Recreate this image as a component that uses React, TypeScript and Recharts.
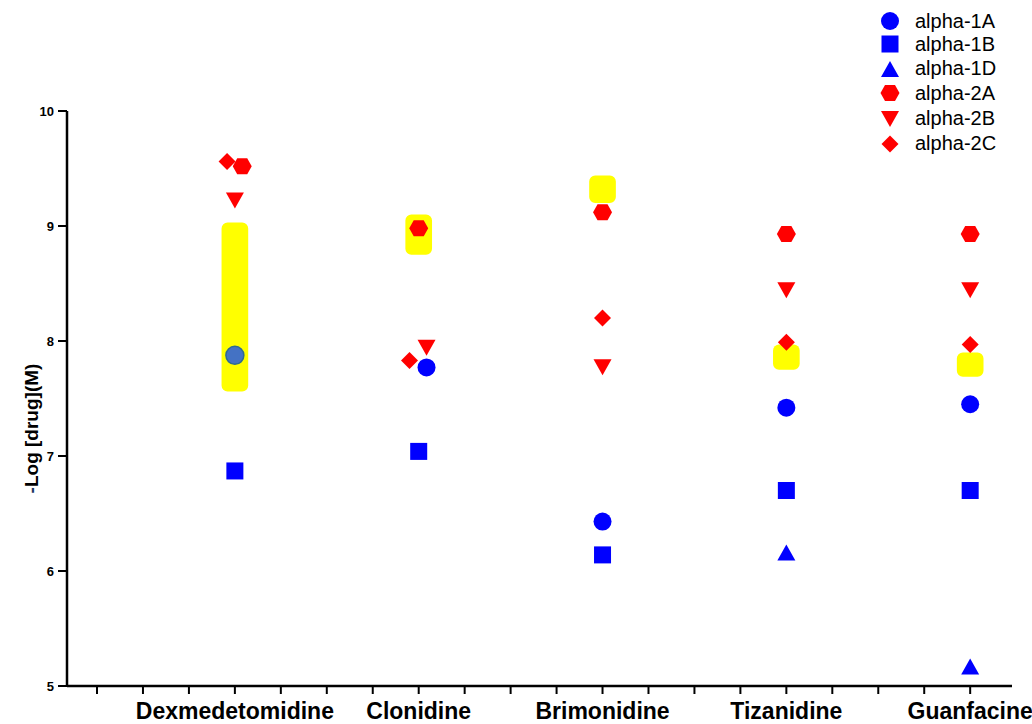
import { Legend, Rectangle, ReferenceArea, Scatter, ScatterChart, XAxis, YAxis } from "recharts";

const drugs = ["Dexmedetomidine", "Clonidine", "Brimonidine", "Tizanidine", "Guanfacine"];
// slot index of each drug on the x axis (20 ticks, a drug every 4th)
const drugSlots = [3, 7, 11, 15, 19];
const slotTicks = [0, 1, 2, 3, 4, 5, 6, 7, 8, 9, 10, 11, 12, 13, 14, 15, 16, 17, 18, 19];
const yTicks = [5, 6, 7, 8, 9, 10];

const alpha1A = [7.88, 7.77, 6.43, 7.42, 7.45];
const alpha1B = [6.87, 7.04, 6.14, 6.7, 6.7];
const alpha1D = [null, null, null, 6.16, 5.17];
const alpha2A = [9.52, 8.98, 9.12, 8.93, 8.93];
const alpha2B = [9.23, 7.95, 7.78, 8.45, 8.45];
const alpha2C = [9.56, 7.83, 8.2, 7.99, 7.97];

// yellow highlight boxes (clinical range)
const rangeLow = [7.56, 8.75, 9.2, 7.75, 7.69];
const rangeHigh = [9.03, 9.1, 9.44, 7.97, 7.9];

// small sideways nudges so overlapping markers stay visible
const jitter: Record<string, number[]> = {
  "alpha-1A": [0, 0.17, 0, 0, 0],
  "alpha-2A": [0.16, 0, 0, 0, 0],
  "alpha-2B": [0, 0.17, 0, 0, 0],
  "alpha-2C": [-0.17, -0.2, 0, 0, 0],
};

const FONT = "'Liberation Sans', Arial, sans-serif";
const BLUE = "#0000ff";
const RED = "#ff0000";

type Kind = "circle" | "square" | "triangle" | "hexagon" | "triangleDown" | "diamond";

const series: { name: string; kind: Kind; color: string; values: (number | null)[] }[] = [
  { name: "alpha-1A", kind: "circle", color: BLUE, values: alpha1A },
  { name: "alpha-1B", kind: "square", color: BLUE, values: alpha1B },
  { name: "alpha-1D", kind: "triangle", color: BLUE, values: alpha1D },
  { name: "alpha-2A", kind: "hexagon", color: RED, values: alpha2A },
  { name: "alpha-2B", kind: "triangleDown", color: RED, values: alpha2B },
  { name: "alpha-2C", kind: "diamond", color: RED, values: alpha2C },
];

function drawMarker(kind: Kind, cx: number, cy: number, fill: string, stroke?: string) {
  const pts = (arr: number[][]) => arr.map(([x, y]) => `${cx + x},${cy + y}`).join(" ");
  switch (kind) {
    case "circle":
      return <circle cx={cx} cy={cy} r={9} fill={fill} stroke={stroke ?? "none"} strokeWidth={1.5} />;
    case "square":
      return <rect x={cx - 8.5} y={cy - 8.5} width={17} height={17} fill={fill} />;
    case "triangle":
      return <polygon points={pts([[0, -8], [9, 8], [-9, 8]])} fill={fill} />;
    case "triangleDown":
      return <polygon points={pts([[-9, -7], [9, -7], [0, 9]])} fill={fill} />;
    case "hexagon":
      return <polygon points={pts([[-9.5, 0], [-5, -8], [5, -8], [9.5, 0], [5, 8], [-5, 8]])} fill={fill} />;
    case "diamond":
      return <polygon points={pts([[0, -8.5], [8.5, 0], [0, 8.5], [-8.5, 0]])} fill={fill} />;
  }
}

const makeShape = (kind: Kind, color: string) => (props: any) => {
  const { cx, cy, payload } = props;
  if (cx == null || cy == null) return <g />;
  // the dexmedetomidine alpha-1A point is drawn shaded in the original
  if (kind === "circle" && payload?.drug === "Dexmedetomidine") {
    return drawMarker(kind, cx, cy + 0.5, "#4472c4", "#2f6b8f");
  }
  return drawMarker(kind, cx, cy, color);
};

const buildData = (name: string, values: (number | null)[]) =>
  values
    .map((v, i) => ({ drug: drugs[i], x: drugSlots[i] + (jitter[name]?.[i] ?? 0), y: v }))
    .filter((d) => d.y !== null);

const legendRows = [22, 24, 25, 24, 26, 25];

const LegendBox = () => (
  <div style={{ fontFamily: FONT, fontSize: 20, color: "#000" }}>
    {series.map((s, i) => (
      <div key={s.name} style={{ display: "flex", alignItems: "center", height: legendRows[i] }}>
        <svg width={26} height={22} style={{ display: "block" }}>
          {drawMarker(s.kind, 13, 11, s.color)}
        </svg>
        <span style={{ marginLeft: 12 }}>{s.name}</span>
      </div>
    ))}
  </div>
);

const YLabel = (props: any) => {
  const vb = props.viewBox;
  const x = 31;
  const y = vb.y + vb.height / 2 + 30;
  return (
    <text
      x={x}
      y={y}
      transform={`rotate(-90, ${x}, ${y})`}
      textAnchor="middle"
      dominantBaseline="central"
      fontFamily={FONT}
      fontSize={19}
      fontWeight={700}
      fill="#000"
    >
      <tspan fill="#1f3864">-</tspan>Log [drug](M)
    </text>
  );
};

export default function App() {
  return (
    <div style={{ position: "absolute", left: 0, top: 0, width: 1032, height: 724, background: "#fff", overflow: "hidden" }}>
      <ScatterChart width={1032} height={724} margin={{ top: 111, right: 20, bottom: 0, left: 7 }} style={{ overflow: "visible" }}>
        <XAxis
          type="number"
          dataKey="x"
          domain={[-0.653, 19.91]}
          ticks={slotTicks}
          interval={0}
          allowDataOverflow
          height={38}
          tickSize={8}
          tickMargin={9}
          axisLine={{ stroke: "#000", strokeWidth: 2.5 }}
          tickLine={{ stroke: "#000", strokeWidth: 2 }}
          tick={{ fill: "#000", fontSize: 23, fontWeight: 700, fontFamily: FONT }}
          tickFormatter={(v: number) => {
            const i = drugSlots.indexOf(v);
            return i >= 0 ? drugs[i] : "";
          }}
        />
        <YAxis
          type="number"
          dataKey="y"
          domain={[5, 10]}
          ticks={yTicks}
          interval={0}
          width={60}
          tickSize={9}
          tickMargin={4}
          axisLine={{ stroke: "#000", strokeWidth: 2.5 }}
          tickLine={{ stroke: "#000", strokeWidth: 2 }}
          tick={{ fill: "#000", fontSize: 13, fontWeight: 700, fontFamily: FONT }}
          label={<YLabel />}
        />
        {drugSlots.map((slot, i) => (
          <ReferenceArea
            key={drugs[i]}
            x1={slot - 0.29}
            x2={slot + 0.29}
            y1={rangeLow[i]}
            y2={rangeHigh[i]}
            fill="#ffff00"
            fillOpacity={1}
            stroke="none"
            shape={(p: any) => <Rectangle {...p} radius={6} />}
          />
        ))}
        {series.map((s) => (
          <Scatter
            key={s.name}
            name={s.name}
            data={buildData(s.name, s.values)}
            fill={s.color}
            shape={makeShape(s.kind, s.color)}
            isAnimationActive={false}
          />
        ))}
        <Legend
          layout="vertical"
          align="center"
          verticalAlign="middle"
          content={<LegendBox />}
          wrapperStyle={{ position: "absolute", left: 877, top: 10, width: 150 }}
        />
      </ScatterChart>
    </div>
  );
}
